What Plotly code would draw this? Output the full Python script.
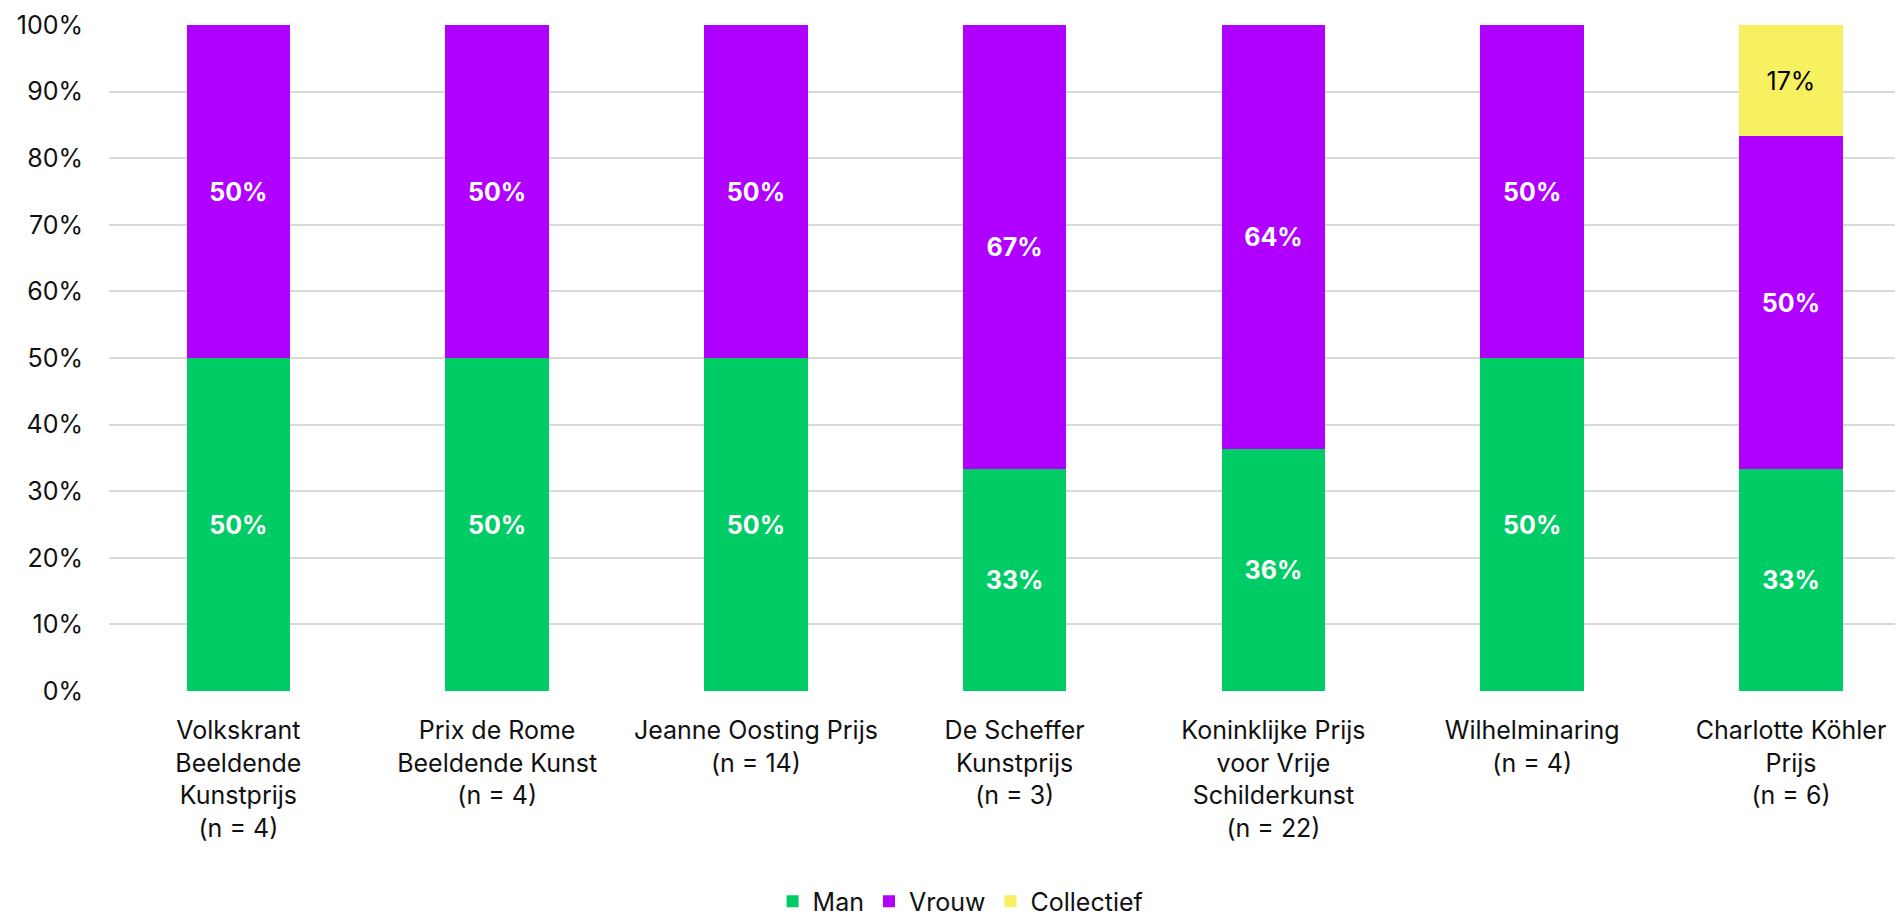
import plotly.graph_objects as go

categories = [
    "Volkskrant<br>Beeldende<br>Kunstprijs<br>(n = 4)",
    "Prix de Rome<br>Beeldende Kunst<br>(n = 4)",
    "Jeanne Oosting Prijs<br>(n = 14)",
    "De Scheffer<br>Kunstprijs<br>(n = 3)",
    "Koninklijke Prijs<br>voor Vrije<br>Schilderkunst<br>(n = 22)",
    "Wilhelminaring<br>(n = 4)",
    "Charlotte Köhler<br>Prijs<br>(n = 6)",
]
man = [50, 50, 50, 33.3, 36.4, 50, 33.3]
vrouw = [50, 50, 50, 66.7, 63.6, 50, 50]
collectief = [None, None, None, None, None, None, 16.7]

FONT = "Inter, Roboto, 'Liberation Sans', sans-serif"

fig = go.Figure()
series = [
    ("Man", man, "#00CC66", "white", "bold"),
    ("Vrouw", vrouw, "#B000FF", "white", "bold"),
    ("Collectief", collectief, "#F7F060", "black", "normal"),
]
for name, vals, col, tcol, weight in series:
    fig.add_trace(go.Bar(
        name=name, x=categories, y=vals, width=0.4,
        marker=dict(color=col, line=dict(width=0)),
        texttemplate="%{y:.0f}%", textposition="inside",
        insidetextanchor="middle", textangle=0,
        textfont=dict(color=tcol, size=25, family=FONT, weight=weight),
        hoverinfo="skip",
    ))

fig.update_layout(
    barmode="stack",
    width=1895, height=910,
    margin=dict(l=101, r=0, t=17, b=227),
    paper_bgcolor="white", plot_bgcolor="white",
    font=dict(family=FONT, size=24, color="#111111"),
    showlegend=True,
    legend=dict(orientation="h", xref="paper", x=0.4747, xanchor="center",
                yref="container", y=0.018, yanchor="middle",
                font=dict(size=25), traceorder="normal", itemclick=False,
                itemwidth=30),
    xaxis=dict(range=[-0.5, 6.433], showgrid=False, ticks="outside", ticklen=17,
               tickcolor="rgba(0,0,0,0)", tickfont=dict(size=25), showline=False,
               zeroline=False, automargin=False),
    yaxis=dict(range=[0, 100], dtick=10, ticksuffix="%", showgrid=True,
               gridcolor="#D9D9D9", gridwidth=2, zeroline=False, showline=False,
               ticks="outside", ticklen=20, tickcolor="rgba(0,0,0,0)",
               tickfont=dict(size=25), automargin=False),
)

fig.write_html("out.html")
